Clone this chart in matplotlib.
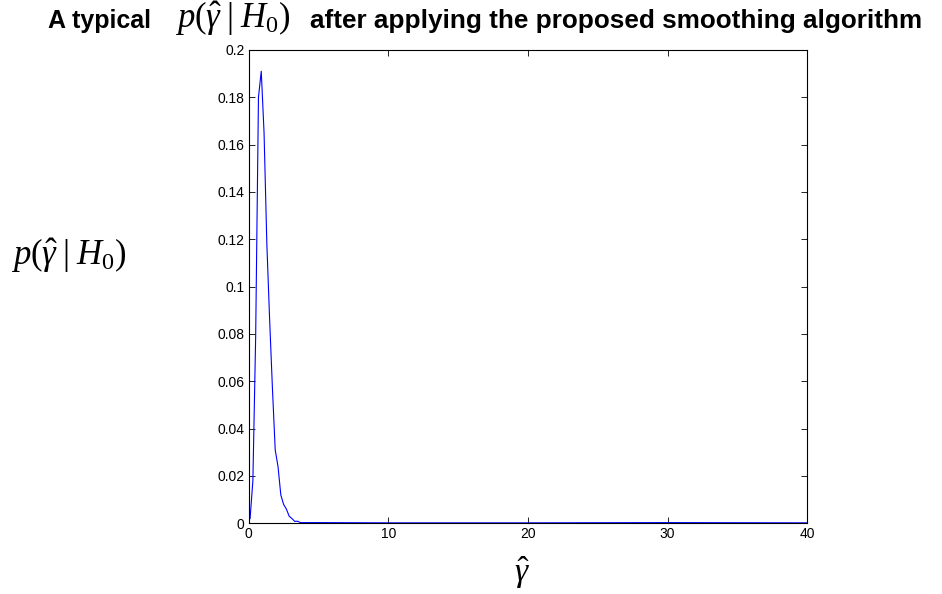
import matplotlib
matplotlib.use('Agg')
import matplotlib.pyplot as plt

# smoothed density estimate
gamma_hat = [0.1, 0.3, 0.5, 0.7, 0.9, 1.1, 1.3, 1.5, 1.7, 1.9,
             2.1, 2.3, 2.5, 2.7, 2.9, 3.1, 3.3, 3.5, 3.7, 3.9,
             5.0, 10.0, 20.0, 30.0, 40.0]
p_h0 = [0.002, 0.018, 0.079, 0.180, 0.191, 0.165, 0.118, 0.086, 0.057, 0.031,
        0.024, 0.012, 0.008, 0.006, 0.003, 0.002, 0.0008, 0.0009, 0.0003, 0.0003,
        0.0003, 0.0002, 0.0002, 0.0003, 0.0002]

x_ticks = [0, 10, 20, 30, 40]
y_ticks = [0, 0.02, 0.04, 0.06, 0.08, 0.1, 0.12, 0.14, 0.16, 0.18, 0.2]
y_tick_labels = ['0', '0.02', '0.04', '0.06', '0.08', '0.1', '0.12', '0.14', '0.16', '0.18', '0.2']

plt.rcParams['font.family'] = ['Liberation Sans', 'DejaVu Sans']
plt.rcParams['mathtext.fontset'] = 'custom'
plt.rcParams['mathtext.rm'] = 'Liberation Serif'
plt.rcParams['mathtext.it'] = 'Liberation Serif:italic'

fig = plt.figure(figsize=(9.42, 5.94), dpi=100)
ax = fig.add_axes([0.264, 0.119, 0.593, 0.797])

ax.plot(gamma_hat, p_h0, color='blue', linewidth=0.8)

ax.set_xlim(0, 40)
ax.set_ylim(0, 0.2)
ax.set_xticks(x_ticks)
ax.set_yticks(y_ticks)
ax.set_yticklabels(y_tick_labels)
ax.tick_params(direction='in', top=True, right=True, labelsize=10, length=4, width=0.6, pad=3)
for s in ax.spines.values():
    s.set_linewidth(0.8)

math_label = r'$p(\hat{\gamma}\;|\;H_0)$'

# title in three pieces: bold sans text around a serif math expression
fig.text(0.051, 0.953, 'A typical', ha='left', va='baseline', fontsize=18, fontweight='bold')
fig.text(0.186, 0.953, math_label, ha='left', va='baseline', fontsize=25)
fig.text(0.329, 0.953, 'after applying the proposed smoothing algorithm', ha='left', va='baseline',
         fontsize=18.8, fontweight='bold')

fig.text(0.012, 0.554, math_label, ha='left', va='baseline', fontsize=25)
fig.text(0.554, 0.035, r'$\hat{\gamma}$', ha='center', va='center', fontsize=24)

fig.savefig('out.png', dpi=100)
